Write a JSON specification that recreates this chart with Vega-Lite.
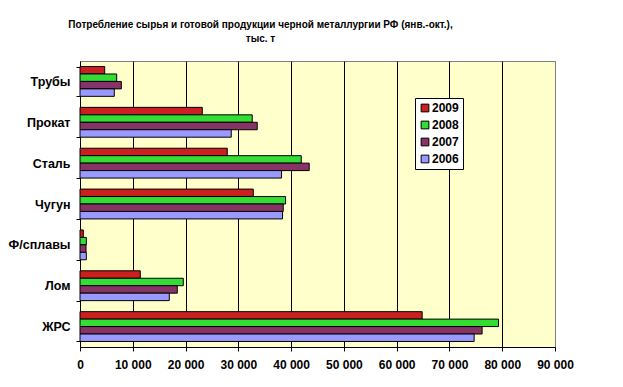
{
  "$schema": "https://vega.github.io/schema/vega-lite/v6.json",
  "autosize": {"type": "none"},
  "width": 475,
  "height": 286,
  "padding": {"left": 80, "top": 61, "right": 68, "bottom": 40},
  "background": "white",
  "title": {
    "text": ["Потребление сырья и готовой продукции черной металлургии РФ (янв.-окт.),", "тыс. т"],
    "font": "Liberation Sans",
    "fontSize": 10,
    "fontWeight": "bold",
    "color": "black",
    "anchor": "middle",
    "frame": "group",
    "dx": -57,
    "offset": 11,
    "lineHeight": 14
  },
  "config": {
    "view": {"fill": "#FFFFCC", "stroke": "#808080", "strokeWidth": 1},
    "font": "Liberation Sans"
  },
  "data": {
    "values": [
      {"cat": "Трубы", "year": "2009", "v": 4680},
      {"cat": "Трубы", "year": "2008", "v": 6950},
      {"cat": "Трубы", "year": "2007", "v": 7830},
      {"cat": "Трубы", "year": "2006", "v": 6500},
      {"cat": "Прокат", "year": "2009", "v": 23170},
      {"cat": "Прокат", "year": "2008", "v": 32630},
      {"cat": "Прокат", "year": "2007", "v": 33580},
      {"cat": "Прокат", "year": "2006", "v": 28660},
      {"cat": "Сталь", "year": "2009", "v": 27900},
      {"cat": "Сталь", "year": "2008", "v": 41920},
      {"cat": "Сталь", "year": "2007", "v": 43430},
      {"cat": "Сталь", "year": "2006", "v": 38190},
      {"cat": "Чугун", "year": "2009", "v": 32830},
      {"cat": "Чугун", "year": "2008", "v": 38950},
      {"cat": "Чугун", "year": "2007", "v": 38510},
      {"cat": "Чугун", "year": "2006", "v": 38380},
      {"cat": "Ф/сплавы", "year": "2009", "v": 630},
      {"cat": "Ф/сплавы", "year": "2008", "v": 1200},
      {"cat": "Ф/сплавы", "year": "2007", "v": 1140},
      {"cat": "Ф/сплавы", "year": "2006", "v": 1200},
      {"cat": "Лом", "year": "2009", "v": 11420},
      {"cat": "Лом", "year": "2008", "v": 19570},
      {"cat": "Лом", "year": "2007", "v": 18430},
      {"cat": "Лом", "year": "2006", "v": 16920},
      {"cat": "ЖРС", "year": "2009", "v": 64830},
      {"cat": "ЖРС", "year": "2008", "v": 79300},
      {"cat": "ЖРС", "year": "2007", "v": 76190},
      {"cat": "ЖРС", "year": "2006", "v": 74680}
    ]
  },
  "mark": {"type": "bar", "stroke": "black", "strokeWidth": 1},
  "encoding": {
    "y": {
      "field": "cat",
      "type": "nominal",
      "sort": ["Трубы", "Прокат", "Сталь", "Чугун", "Ф/сплавы", "Лом", "ЖРС"],
      "scale": {"paddingInner": 0.27, "paddingOuter": 0.135},
      "axis": {
        "title": null,
        "tickBand": "extent",
        "domainColor": "black",
        "tickColor": "black",
        "tickSize": 4,
        "labelPadding": 6,
        "labelFont": "Liberation Sans",
        "labelFontSize": 12.5,
        "labelFontWeight": "bold",
        "labelColor": "black"
      }
    },
    "yOffset": {
      "field": "year",
      "type": "nominal",
      "sort": ["2009", "2008", "2007", "2006"],
      "scale": {"paddingInner": 0, "paddingOuter": 0}
    },
    "x": {
      "field": "v",
      "type": "quantitative",
      "scale": {"domain": [0, 90000], "nice": false},
      "axis": {
        "title": null,
        "values": [0, 10000, 20000, 30000, 40000, 50000, 60000, 70000, 80000, 90000],
        "labelExpr": "replace(format(datum.value, ','), ',', ' ')",
        "grid": true,
        "gridColor": {"condition": {"test": "datum.value == 90000 || datum.value == 0", "value": "#808080"}, "value": "black"},
        "gridOpacity": 1,
        "domainColor": "black",
        "tickColor": "black",
        "tickSize": 4,
        "labelPadding": 8,
        "labelFont": "Liberation Sans",
        "labelFontSize": 12,
        "labelFontWeight": "bold",
        "labelColor": "black",
        "labelFlush": false
      }
    },
    "color": {
      "field": "year",
      "type": "nominal",
      "sort": ["2009", "2008", "2007", "2006"],
      "scale": {"domain": ["2009", "2008", "2007", "2006"], "range": ["#CC1F1F", "#33DD33", "#883366", "#9999FF"]},
      "legend": {
        "title": null,
        "orient": "none",
        "legendX": 335,
        "legendY": 37,
        "padding": 4,
        "strokeColor": "black",
        "fillColor": "white",
        "symbolType": "square",
        "symbolSize": 60,
        "symbolStrokeColor": "black",
        "symbolStrokeWidth": 1,
        "symbolOpacity": 1,
        "labelFont": "Liberation Sans",
        "labelFontSize": 12,
        "labelFontWeight": "bold",
        "labelColor": "black",
        "rowPadding": 5,
        "labelOffset": 1
      }
    }
  }
}
